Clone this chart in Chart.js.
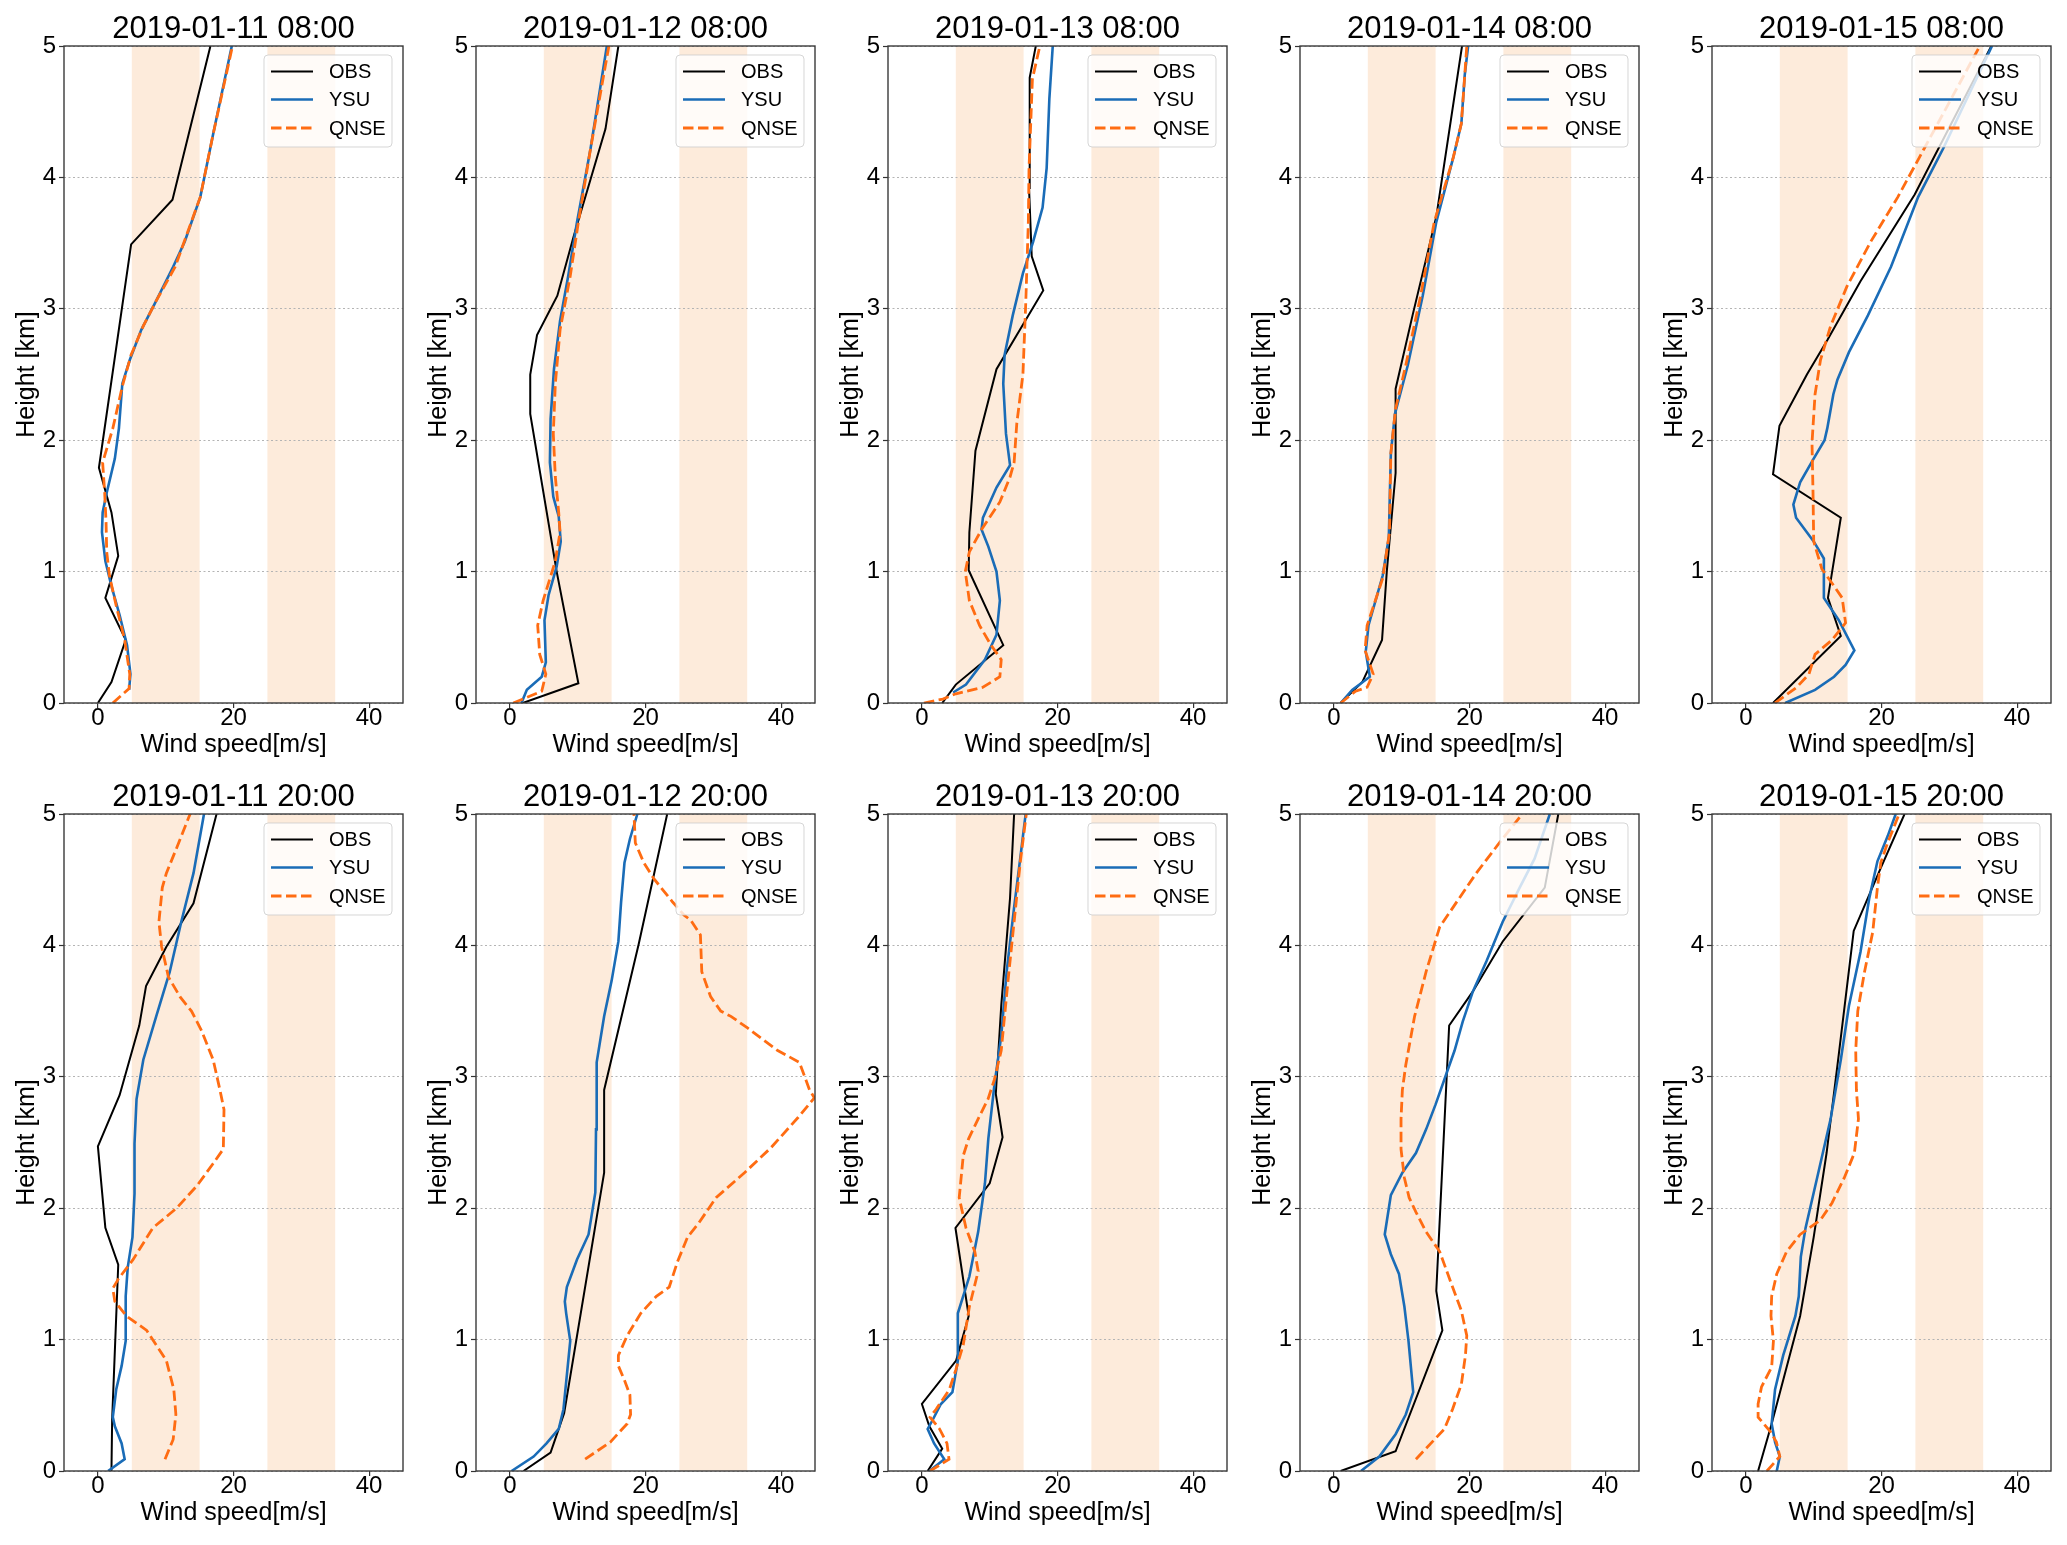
<!DOCTYPE html>
<html>
<head>
<meta charset="utf-8">
<script src="https://cdn.jsdelivr.net/npm/chart.js@4.4.1/dist/chart.umd.min.js"></script>
<style>
  html, body { margin: 0; padding: 0; background: #fff; }
  body { width: 2067px; height: 1545px; position: relative; overflow: hidden; }
  canvas { position: absolute; }
</style>
</head>
<body>
<script>
// ---------------- DATA (wind speed [m/s], height [km]) ----------------
const titles = ['2019-01-11 08:00','2019-01-12 08:00','2019-01-13 08:00','2019-01-14 08:00','2019-01-15 08:00',
                '2019-01-11 20:00','2019-01-12 20:00','2019-01-13 20:00','2019-01-14 20:00','2019-01-15 20:00'];
const seriesNames = ['OBS','YSU','QNSE'];
const xTicks = [0, 20, 40];
const shadedRanges = [[5, 15], [25, 35]];

const obs_0111_08 = [[0,0],[2.0,0.16],[4.1,0.48],[1.1,0.8],[3.0,1.12],[2.0,1.45],[0.15,1.79],[4.9,3.49],[11.0,3.83],[16.6,5.0]];
const ysu_0111_08 = [[4.6,0.1],[4.8,0.22],[4.3,0.44],[3.2,0.67],[2.0,0.89],[1.1,1.08],[0.6,1.3],[0.7,1.45],[1.3,1.6],[2.5,1.86],[3.1,2.09],[3.6,2.43],[4.7,2.61],[6.4,2.84],[8.2,3.02],[11.1,3.32],[12.8,3.51],[15.1,3.85],[17.0,4.33],[19.75,5.0]];
const qnse_0111_08 = [[2.2,0],[4.6,0.11],[4.7,0.22],[3.95,0.48],[2.7,0.74],[1.7,0.97],[1.3,1.15],[1.2,1.38],[1.0,1.6],[0.7,1.83],[2.2,2.09],[3.6,2.41],[4.9,2.65],[6.7,2.87],[8.6,3.06],[11.4,3.32],[15.1,3.85],[17.0,4.33],[19.85,5.0]];

const obs_0112_08 = [[1.9,0],[10.1,0.15],[6.9,1.0],[3.0,2.2],[3.0,2.5],[4.0,2.8],[7.0,3.1],[9.4,3.55],[14.1,4.37],[16.0,5.0]];
const ysu_0112_08 = [[1.7,0],[2.5,0.1],[4.7,0.2],[5.3,0.31],[5.1,0.63],[5.7,0.82],[6.9,1.04],[7.5,1.23],[7.2,1.42],[6.4,1.57],[5.9,1.83],[6.0,2.16],[6.5,2.54],[7.4,2.91],[8.6,3.25],[9.9,3.66],[11.9,4.22],[14.3,5.0]];
const qnse_0112_08 = [[0.5,0],[4.7,0.09],[5.3,0.22],[4.4,0.37],[4.1,0.59],[4.9,0.78],[6.7,1.08],[7.4,1.3],[7.2,1.45],[6.7,1.72],[6.4,2.05],[6.7,2.43],[7.4,2.84],[8.9,3.25],[10.1,3.66],[11.9,4.22],[14.6,5.0]];

const obs_0113_08 = [[3.0,0],[5.0,0.14],[12.0,0.44],[6.9,1.01],[7.0,1.3],[7.9,1.92],[11.0,2.54],[17.9,3.14],[16.2,3.4],[15.8,3.92],[15.9,4.76],[16.8,5.0]];
const ysu_0113_08 = [[4.6,0.08],[6.5,0.14],[9.3,0.33],[11.0,0.52],[11.5,0.78],[11.0,1.0],[9.8,1.19],[8.8,1.32],[9.0,1.41],[11.0,1.64],[13.0,1.81],[12.4,2.05],[12.0,2.43],[12.2,2.65],[13.4,2.95],[14.9,3.27],[16.4,3.51],[17.8,3.77],[18.4,4.07],[18.8,4.6],[19.3,5.0]];
const qnse_0113_08 = [[0.3,0],[3.1,0.03],[5.0,0.07],[9.0,0.12],[11.5,0.2],[11.7,0.33],[10.2,0.44],[8.5,0.59],[7.0,0.78],[6.4,1.0],[7.0,1.15],[8.8,1.32],[11.5,1.53],[13.0,1.72],[13.6,1.83],[14.0,2.13],[14.9,2.5],[15.3,3.02],[15.7,3.66],[15.8,4.07],[16.3,4.75],[17.4,5.0]];

const obs_0114_08 = [[1.0,0],[4.2,0.16],[7.1,0.48],[7.8,1.0],[9.1,1.75],[9.1,2.39],[11.6,2.95],[15.1,3.7],[18.9,5.0]];
const ysu_0114_08 = [[1.0,0],[2.7,0.1],[5.3,0.2],[4.7,0.39],[5.1,0.59],[7.2,0.97],[8.1,1.26],[8.4,1.9],[9.0,2.2],[10.9,2.57],[13.1,3.1],[15.1,3.66],[17.6,4.15],[18.8,4.41],[19.3,4.78],[19.8,5.0]];
const qnse_0114_08 = [[1.0,0],[3.2,0.09],[4.9,0.12],[5.8,0.22],[5.2,0.31],[4.6,0.4],[4.9,0.59],[7.2,0.95],[8.2,1.3],[8.4,1.9],[9.1,2.24],[10.6,2.57],[12.8,3.1],[14.8,3.66],[17.6,4.15],[18.8,4.41],[19.3,4.78],[19.6,5.0]];

const obs_0115_08 = [[4.0,0],[14.0,0.51],[12.1,0.8],[14.0,1.41],[4.0,1.74],[4.95,2.11],[9.0,2.5],[12.0,2.76],[16.9,3.21],[24.9,3.87],[28.8,4.26],[36.2,5.0]];
const ysu_0115_08 = [[5.8,0],[10.2,0.1],[13.0,0.2],[14.7,0.29],[16.0,0.4],[13.7,0.63],[11.5,0.8],[11.5,1.1],[10.0,1.23],[7.4,1.41],[7.0,1.51],[8.0,1.68],[10.0,1.86],[11.6,2.0],[12.0,2.09],[12.9,2.35],[13.5,2.46],[15.2,2.67],[18.0,2.95],[21.4,3.32],[25.4,3.85],[29.1,4.22],[36.3,5.0]];
const qnse_0115_08 = [[4.3,0],[7.5,0.12],[9.3,0.22],[10.2,0.37],[12.7,0.48],[14.7,0.61],[14.2,0.8],[13.0,0.89],[11.2,1.02],[10.0,1.23],[9.9,1.6],[9.75,1.98],[10.2,2.35],[11.0,2.61],[12.5,2.87],[14.9,3.17],[18.4,3.51],[22.4,3.85],[26.3,4.22],[30.3,4.6],[34.5,5.0]];

const obs_0111_20 = [[2.0,0],[2.1,0.39],[3.0,1.57],[1.1,1.85],[0,2.47],[3.2,2.86],[6.1,3.39],[7.1,3.69],[10.1,3.99],[14.1,4.32],[17.5,5.0]];
const ysu_0111_20 = [[1.5,0],[3.95,0.09],[3.5,0.21],[2.5,0.34],[2.2,0.41],[2.7,0.62],[3.5,0.8],[4.1,0.99],[4.1,1.33],[4.4,1.55],[5.1,1.78],[5.4,2.11],[5.4,2.49],[5.7,2.83],[6.7,3.13],[8.6,3.46],[10.6,3.8],[12.3,4.18],[14.1,4.55],[15.65,5.0]];
const qnse_0111_20 = [[9.9,0.09],[11.1,0.24],[11.5,0.43],[11.2,0.62],[10.1,0.84],[7.2,1.07],[4.2,1.18],[2.5,1.29],[2.2,1.39],[3.0,1.46],[5.2,1.61],[8.1,1.85],[11.6,2.0],[14.6,2.17],[17.0,2.34],[18.5,2.45],[18.6,2.75],[18.0,2.9],[17.0,3.13],[15.3,3.35],[13.8,3.5],[12.1,3.61],[10.4,3.76],[9.4,3.99],[9.0,4.18],[9.5,4.44],[10.1,4.55],[11.6,4.74],[13.6,5.0]];

const obs_0112_20 = [[2.0,0],[6.0,0.14],[8.0,0.44],[13.9,2.27],[13.9,2.9],[19.0,4.01],[23.2,5.0]];
const ysu_0112_20 = [[0.25,0],[3.5,0.11],[5.4,0.21],[7.2,0.32],[7.9,0.47],[8.4,0.73],[8.9,0.99],[8.3,1.2],[8.1,1.29],[8.4,1.4],[9.9,1.61],[11.6,1.8],[12.6,2.12],[12.7,2.6],[12.8,3.11],[13.9,3.46],[15.0,3.73],[16.0,4.03],[16.4,4.33],[16.9,4.63],[17.7,4.81],[18.8,5.0]];
const qnse_0112_20 = [[11.1,0.09],[14.8,0.22],[17.3,0.36],[17.8,0.43],[17.7,0.58],[16.9,0.69],[16.0,0.8],[16.0,0.88],[17.3,1.03],[19.3,1.2],[21.6,1.33],[23.5,1.4],[24.7,1.59],[26.2,1.78],[27.9,1.89],[30.4,2.08],[34.6,2.27],[38.5,2.46],[42.5,2.69],[44.9,2.84],[44.2,2.9],[42.7,3.11],[39.5,3.2],[35.1,3.37],[32.6,3.46],[31.1,3.5],[29.6,3.61],[28.3,3.8],[28.1,4.08],[26.7,4.19],[25.7,4.23],[24.0,4.33],[21.2,4.51],[19.75,4.63],[18.5,4.78],[18.3,5.0]];

const obs_0113_20 = [[0.85,0],[3.0,0.17],[1.1,0.34],[0,0.51],[5.05,0.84],[6.9,1.18],[4.95,1.85],[10.0,2.19],[11.9,2.54],[10.9,2.87],[11.7,3.54],[13.0,4.36],[13.6,5.0]];
const ysu_0113_20 = [[1.1,0],[3.3,0.09],[1.8,0.21],[0.85,0.32],[1.6,0.39],[2.8,0.51],[4.5,0.6],[5.3,0.84],[5.3,1.2],[7.0,1.48],[8.3,1.82],[9.3,2.19],[9.8,2.53],[10.7,2.94],[11.7,3.31],[12.5,3.8],[13.6,4.29],[14.5,4.66],[15.3,5.0]];
const qnse_0113_20 = [[1.2,0],[4.0,0.09],[3.7,0.21],[2.6,0.32],[1.2,0.41],[2.1,0.47],[4.05,0.62],[5.0,0.77],[6.1,0.96],[7.0,1.25],[8.3,1.52],[7.8,1.67],[6.5,1.85],[5.5,2.08],[6.1,2.4],[6.9,2.53],[8.3,2.68],[9.75,2.83],[10.7,2.98],[11.7,3.2],[12.7,3.73],[13.6,4.18],[14.5,4.63],[15.4,5.0]];

const obs_0114_20 = [[1.0,0],[9.1,0.15],[16.0,1.07],[15.1,1.37],[17.0,3.39],[20.5,3.65],[24.9,4.03],[31.1,4.44],[33.1,5.0]];
const ysu_0114_20 = [[4.0,0],[6.7,0.11],[9.1,0.28],[10.6,0.43],[11.7,0.6],[11.0,0.99],[10.4,1.25],[9.6,1.5],[8.4,1.65],[7.5,1.8],[8.1,2.0],[8.4,2.1],[10.1,2.27],[12.1,2.42],[13.6,2.6],[15.0,2.79],[16.5,3.01],[17.8,3.2],[19.0,3.42],[20.5,3.65],[22.5,3.88],[24.9,4.18],[27.4,4.44],[29.6,4.66],[31.85,5.0]];
const qnse_0114_20 = [[12.1,0.09],[14.3,0.21],[16.3,0.32],[17.5,0.47],[18.8,0.66],[19.4,0.88],[19.6,1.03],[18.8,1.22],[17.5,1.4],[15.6,1.67],[13.6,1.82],[12.1,1.97],[11.1,2.08],[10.4,2.23],[9.9,2.45],[9.9,2.68],[10.1,2.9],[10.6,3.09],[11.9,3.46],[13.6,3.8],[15.6,4.14],[18.5,4.36],[21.0,4.55],[24.4,4.78],[27.8,5.0]];

const obs_0115_20 = [[1.8,0],[3.8,0.36],[8.0,1.18],[10.0,1.78],[11.9,2.42],[13.7,3.17],[15.9,4.11],[19.9,4.59],[23.4,5.0]];
const ysu_0115_20 = [[4.55,0],[5.0,0.11],[4.3,0.22],[3.8,0.36],[4.3,0.62],[5.5,0.88],[7.3,1.18],[7.8,1.33],[8.1,1.63],[8.8,1.85],[10.5,2.23],[12.5,2.68],[14.0,3.13],[15.2,3.54],[16.9,3.95],[18.2,4.36],[19.4,4.64],[20.9,4.83],[22.1,5.0]];
const qnse_0115_20 = [[3.1,0],[5.0,0.11],[4.5,0.22],[3.6,0.3],[1.8,0.41],[1.8,0.51],[2.3,0.64],[3.8,0.79],[4.06,0.99],[3.7,1.18],[3.8,1.33],[4.55,1.5],[6.0,1.67],[8.0,1.8],[11.0,1.91],[12.7,2.04],[14.5,2.23],[16.0,2.42],[16.6,2.68],[16.3,2.9],[16.2,3.2],[16.5,3.5],[17.5,3.8],[18.7,4.1],[19.4,4.44],[19.9,4.63],[20.9,4.78],[22.6,5.0]];

const panelSeries = [
  [obs_0111_08, ysu_0111_08, qnse_0111_08],
  [obs_0112_08, ysu_0112_08, qnse_0112_08],
  [obs_0113_08, ysu_0113_08, qnse_0113_08],
  [obs_0114_08, ysu_0114_08, qnse_0114_08],
  [obs_0115_08, ysu_0115_08, qnse_0115_08],
  [obs_0111_20, ysu_0111_20, qnse_0111_20],
  [obs_0112_20, ysu_0112_20, qnse_0112_20],
  [obs_0113_20, ysu_0113_20, qnse_0113_20],
  [obs_0114_20, ysu_0114_20, qnse_0114_20],
  [obs_0115_20, ysu_0115_20, qnse_0115_20]
];

// ---------------- STYLE ----------------
const FONT = "'Liberation Sans', Arial, Helvetica, sans-serif";
const CELL_W = 412, CELL_H = 768;
const seriesStyle = [
  { color: '#000000', width: 2.0, dash: [] },
  { color: '#1a6cb7', width: 2.6, dash: [] },
  { color: '#ff6c12', width: 2.8, dash: [10.5, 4.5] }
];
const BAND_COLOR = 'rgb(253,235,219)';

Chart.defaults.font.family = FONT;
Chart.defaults.color = '#000';

const decoPlugin = {
  id: 'deco',
  beforeDraw(chart) {
    const { ctx, chartArea: a, scales: { x } } = chart;
    ctx.save();
    ctx.fillStyle = BAND_COLOR;
    for (const [lo, hi] of shadedRanges) {
      const x1 = x.getPixelForValue(lo), x2 = x.getPixelForValue(hi);
      ctx.fillRect(x1, a.top, x2 - x1, a.bottom - a.top);
    }
    ctx.restore();
  },
  afterDatasetsDraw(chart) {
    const { ctx, chartArea: a } = chart;
    const w = 128, h = 92;
    const x0 = a.right - 11 - w, y0 = a.top + 9;
    ctx.save();
    ctx.beginPath();
    ctx.roundRect(x0, y0, w, h, 4);
    ctx.fillStyle = 'rgba(255,255,255,0.8)';
    ctx.fill();
    ctx.lineWidth = 1;
    ctx.strokeStyle = 'rgba(204,204,204,0.8)';
    ctx.stroke();
    const rows = [16.5, 44.5, 73];
    ctx.font = '20px ' + FONT;
    ctx.textBaseline = 'middle';
    ctx.textAlign = 'left';
    seriesNames.forEach((name, i) => {
      const st = seriesStyle[i];
      const yy = y0 + rows[i];
      ctx.beginPath();
      ctx.setLineDash(st.dash);
      ctx.lineWidth = st.width;
      ctx.strokeStyle = st.color;
      ctx.moveTo(x0 + 7, yy);
      ctx.lineTo(x0 + 49, yy);
      ctx.stroke();
      ctx.setLineDash([]);
      ctx.fillStyle = '#000';
      ctx.fillText(name, x0 + 65, yy + 1);
    });
    ctx.restore();
  },
  afterDraw(chart) {
    const { ctx, chartArea: a } = chart;
    ctx.save();
    ctx.lineWidth = 1.4;
    ctx.strokeStyle = '#3a3a3a';
    ctx.strokeRect(a.left, a.top, a.right - a.left, a.bottom - a.top);
    ctx.restore();
  }
};

titles.forEach((title, p) => {
  const row = Math.floor(p / 5), col = p % 5;
  const cv = document.createElement('canvas');
  cv.width = CELL_W; cv.height = CELL_H;
  cv.style.left = (col * CELL_W) + 'px';
  cv.style.top = (row * CELL_H) + 'px';
  cv.style.width = CELL_W + 'px';
  cv.style.height = CELL_H + 'px';
  document.body.appendChild(cv);

  const datasets = panelSeries[p].map((pts, i) => ({
    label: seriesNames[i],
    data: pts.map(([s, h]) => ({ x: s, y: h })),
    borderColor: seriesStyle[i].color,
    borderWidth: seriesStyle[i].width,
    borderDash: seriesStyle[i].dash,
    pointRadius: 0,
    fill: false,
    tension: 0,
    order: 3 - i
  }));

  new Chart(cv, {
    type: 'line',
    data: { datasets },
    plugins: [decoPlugin],
    options: {
      responsive: false,
      animation: false,
      devicePixelRatio: 1,
      parsing: true,
      layout: { padding: { left: 0, right: 9, top: 0, bottom: 0 } },
      plugins: {
        legend: { display: false },
        tooltip: { enabled: false },
        title: {
          display: true, text: title, fullSize: false, color: '#000',
          font: { size: 31, weight: 'normal', lineHeight: 1 },
          padding: { top: 14, bottom: 1 }
        }
      },
      scales: {
        x: {
          type: 'linear', min: -5, max: 45,
          afterBuildTicks: s => { s.ticks = xTicks.map(v => ({ value: v })); },
          afterFit: s => { s.height = 65; },
          grid: { drawOnChartArea: false, drawTicks: true, tickLength: 5, color: '#333', tickColor: '#333', lineWidth: 1.2, tickWidth: 1.2 },
          border: { display: false },
          ticks: { font: { size: 24 }, padding: -4, color: '#000', maxRotation: 0, autoSkip: false },
          title: { display: true, text: 'Wind speed[m/s]', color: '#000', font: { size: 25 }, padding: { top: 0, bottom: 8 } }
        },
        y: {
          type: 'linear', min: 0, max: 5,
          afterFit: s => { s.width = 64; },
          ticks: { stepSize: 1, font: { size: 24 }, padding: 3, color: '#000' },
          grid: { color: '#b4b4b4', lineWidth: 1, tickColor: '#333', tickWidth: 1.2, tickLength: 5, tickBorderDash: [] },
          border: { display: false, dash: [2, 2.5] },
          title: { display: true, text: 'Height [km]', color: '#000', font: { size: 25 }, padding: { top: 12, bottom: 0 } }
        }
      }
    }
  });
});
</script>
</body>
</html>
